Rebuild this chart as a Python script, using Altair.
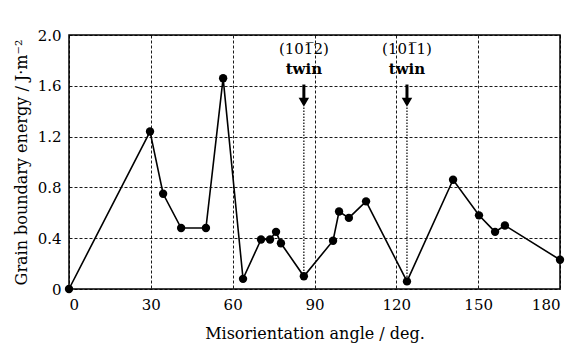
import altair as alt
import pandas as pd

angle = [0, 29.7, 34.5, 41.1, 50.2, 56.5, 63.8, 70.4, 73.7, 75.9, 77.7, 86.1,
         96.8, 99.0, 102.6, 108.9, 123.9, 140.8, 150.3, 156.2, 159.8, 180.0]
energy = [0.0, 1.24, 0.75, 0.48, 0.48, 1.66, 0.08, 0.39, 0.39, 0.45, 0.36, 0.10,
          0.38, 0.61, 0.56, 0.69, 0.06, 0.86, 0.58, 0.45, 0.50, 0.23]

twin_x = [86.1, 123.9]
twin_y = [0.10, 0.06]
twin_plane = ["(101\u03052)", "(101\u03051)"]
twin_word = ["twin", "twin"]

FONT = "DejaVu Serif"

df = pd.DataFrame({"angle": angle, "energy": energy})
tw = pd.DataFrame({"x": twin_x, "y": twin_y, "plane": twin_plane, "word": twin_word,
                   "ytop": [1.43] * 2, "ashaft_top": [1.61] * 2, "ashaft_bot": [1.46] * 2,
                   "ahead": [1.47] * 2, "yplane": [1.89] * 2, "yword": [1.735] * 2})

xs = alt.Scale(domain=[0, 180], nice=False)
ys = alt.Scale(domain=[0, 2.0], nice=False)

xaxis = alt.Axis(values=[0, 30, 60, 90, 120, 150, 180], title="Misorientation angle / deg.",
                 titlePadding=13)
yaxis = alt.Axis(values=[0, 0.4, 0.8, 1.2, 1.6, 2.0], title="Grain boundary energy / J\u00b7m\u207b\u00b2",
                 labelExpr="datum.value == 0 ? '0' : format(datum.value, '.1f')", titlePadding=8)

line = alt.Chart(df).mark_line(color="black", strokeWidth=1.6).encode(
    x=alt.X("angle:Q", scale=xs, axis=xaxis),
    y=alt.Y("energy:Q", scale=ys, axis=yaxis),
)
pts = alt.Chart(df).mark_circle(color="black", size=70, opacity=1).encode(
    x=alt.X("angle:Q", scale=xs), y=alt.Y("energy:Q", scale=ys))

dotted = alt.Chart(tw).mark_rule(color="black", strokeDash=[1.5, 1.5], strokeWidth=1.2).encode(
    x=alt.X("x:Q", scale=xs), y=alt.Y("ytop:Q", scale=ys), y2="y:Q")
shaft = alt.Chart(tw).mark_rule(color="black", strokeWidth=3).encode(
    x=alt.X("x:Q", scale=xs), y=alt.Y("ashaft_top:Q", scale=ys), y2="ashaft_bot:Q")
head = alt.Chart(tw).mark_point(shape="triangle-down", filled=True, color="black", size=110, opacity=1).encode(
    x=alt.X("x:Q", scale=xs), y=alt.Y("ahead:Q", scale=ys))
t1 = alt.Chart(tw).mark_text(font=FONT, fontSize=15, color="black").encode(
    x=alt.X("x:Q", scale=xs), y=alt.Y("yplane:Q", scale=ys), text="plane:N")
t2 = alt.Chart(tw).mark_text(font=FONT, fontSize=15, fontWeight="bold", color="black").encode(
    x=alt.X("x:Q", scale=xs), y=alt.Y("yword:Q", scale=ys), text="word:N")

chart = alt.layer(dotted, line, pts, shaft, head, t1, t2).properties(
    width=491, height=254,
    autosize=alt.AutoSizeParams(type="none"),
    padding={"left": 61, "top": 27, "right": 8, "bottom": 54},
).configure_view(stroke="black", strokeWidth=1.5).configure_axis(
    domain=False, ticks=False, grid=True, gridColor="black", gridDash=[3, 2],
    gridOpacity=1, gridWidth=0.9, labelFont=FONT, labelFontSize=15, labelColor="black",
    titleFont=FONT, titleFontSize=16, titleFontWeight="normal", titleColor="black",
    labelPadding=8,
).configure_axisY(labelPadding=8)

chart.save("out.html", embed_options={"renderer": "svg", "actions": False})
